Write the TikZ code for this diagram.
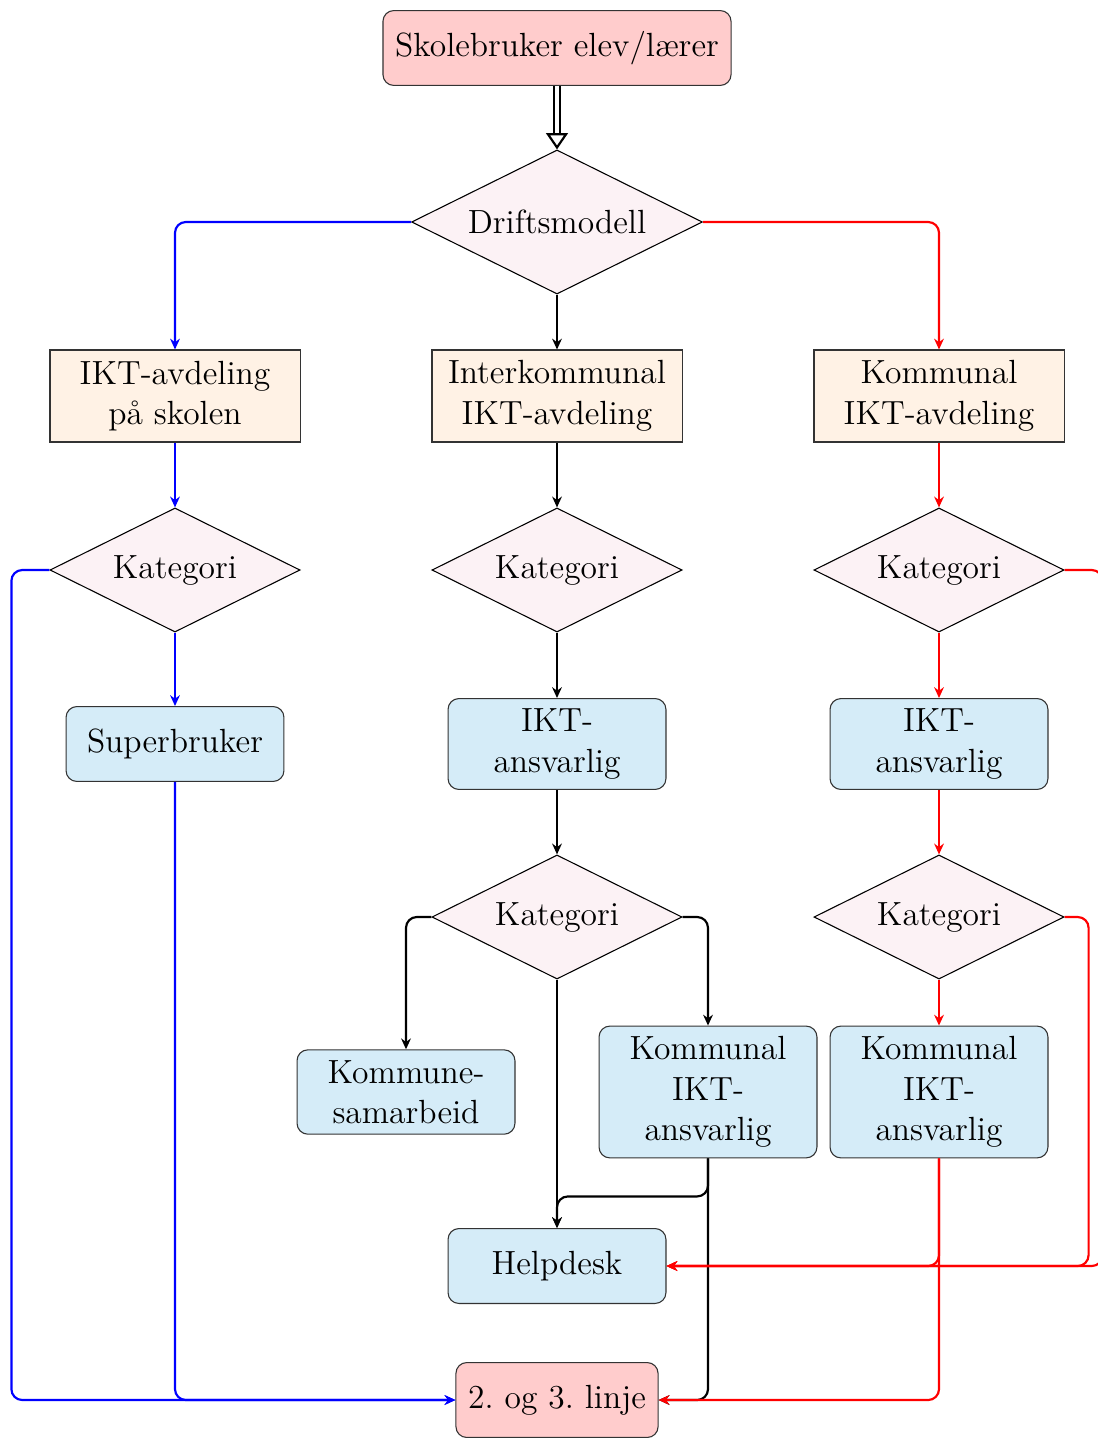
\documentclass[tikz,border=0pt]{standalone}
\usepackage{tikz}
\usetikzlibrary{arrows.meta,shapes.geometric}
\definecolor{boksblaa}{RGB}{213,236,248}
\tikzset{
	valg/.style={diamond, draw, fill=purple!5, aspect=2, inner sep=0pt, minimum width=92.5pt, minimum height=45.9pt},
	avdeling/.style={rectangle, draw=black!80, fill=orange!10, align=center, inner xsep=4.5pt, inner ysep=3.8pt, minimum width=92.5pt, minimum height=34pt},
	rolle/.style={rectangle, rounded corners, draw=black!80, fill=boksblaa, align=center, inner xsep=4.5pt, inner ysep=3.8pt, minimum width=80.6pt, minimum height=27.7pt},
	ende/.style={rectangle, rounded corners, draw=black!80, fill=red!20, align=center, inner xsep=4.5pt, inner ysep=3.8pt, minimum height=27.7pt},
	pil/.style={thick, rounded corners=4pt, -{Stealth[length=4pt,width=3.6pt]}},
}

\begin{document}
\begin{tikzpicture}[x=0.013cm, y=-0.013cm, font=\fontsize{12.4pt}{15pt}\selectfont]
			%%%%% START %%%%%
			\useasboundingbox (0,0) rectangle (1097,1438);
			
			\node[ende] (bruker) at (557,48) {Skolebruker elev/lærer};
			\node[valg, minimum width=107.6pt, minimum height=53.3pt] (drift) at (557,222) {Driftsmodell};
			
			\node[avdeling] (skoleavd) at (175,396) {IKT-avdeling\\på skolen};
			\node[avdeling] (interavd) at (557,396) {Interkommunal\\IKT-avdeling};
			\node[avdeling] (kommavd) at (939,396) {Kommunal\\IKT-avdeling};
			
			\node[valg] (katA) at (175,570) {Kategori};
			\node[valg] (katB) at (557,570) {Kategori};
			\node[valg] (katC) at (939,570) {Kategori};
			
			\node[rolle] (superbruker) at (175,744) {Superbruker};
			\node[rolle] (ansvB) at (557,744) {IKT-\\ansvarlig};
			\node[rolle] (ansvC) at (939,744) {IKT-\\ansvarlig};
			
			\node[valg] (katD) at (557,917) {Kategori};
			\node[valg] (katE) at (939,917) {Kategori};
			
			\node[rolle] (samarbeid) at (406,1092) {Kommune-\\samarbeid};
			\node[rolle] (kommansvD) at (708,1092) {Kommunal\\IKT-\\ansvarlig};
			\node[rolle] (kommansvE) at (939,1092) {Kommunal\\IKT-\\ansvarlig};
			
			\node[rolle] (helpdesk) at (557,1266) {Helpdesk};
			\node[ende] (linje) at (557,1400) {2.\ og 3.\ linje};
			
			% inn
			\draw[thick, double, double distance=1.5pt, -{Triangle[open, length=6pt, width=8pt]}] (bruker) -- (drift);
			
			% skolen selv
			\draw[pil, blue] (drift.west) -| (skoleavd.north);
			\draw[pil, blue] (skoleavd) -- (katA);
			\draw[pil, blue] (katA) -- (superbruker);
			\draw[pil, blue] (katA.west) -- ++(-38,0) |- (linje.west);
			\draw[pil, blue] (superbruker.south) |- (linje.west);
			
			% interkommunal
			\draw[pil] (drift) -- (interavd);
			\draw[pil] (interavd) -- (katB);
			\draw[pil] (katB) -- (ansvB);
			\draw[pil] (ansvB) -- (katD);
			\draw[pil] (katD.west) -| (samarbeid.north);
			\draw[pil] (katD.east) -| (kommansvD.north);
			\draw[pil] (katD) -- (helpdesk);
			\draw[pil] (kommansvD.south) -- ++(0,38) -| (helpdesk.north);
			\draw[pil] (kommansvD.south) |- (linje.east);
			
			% kommunal
			\draw[pil, red] (drift.east) -| (kommavd.north);
			\draw[pil, red] (kommavd) -- (katC);
			\draw[pil, red] (katC) -- (ansvC);
			\draw[pil, red] (ansvC) -- (katE);
			\draw[pil, red] (katE) -- (kommansvE);
			\draw[pil, red] (katC.east) -- ++(38,0) |- (helpdesk.east);
			\draw[pil, red] (katE.east) -- ++(24,0) |- (helpdesk.east);
			\draw[pil, red] (kommansvE.south) |- (helpdesk.east);
			\draw[pil, red] (kommansvE.south) |- (linje.east);
			
			%%%%% END %%%%%
\end{tikzpicture}
\end{document}
